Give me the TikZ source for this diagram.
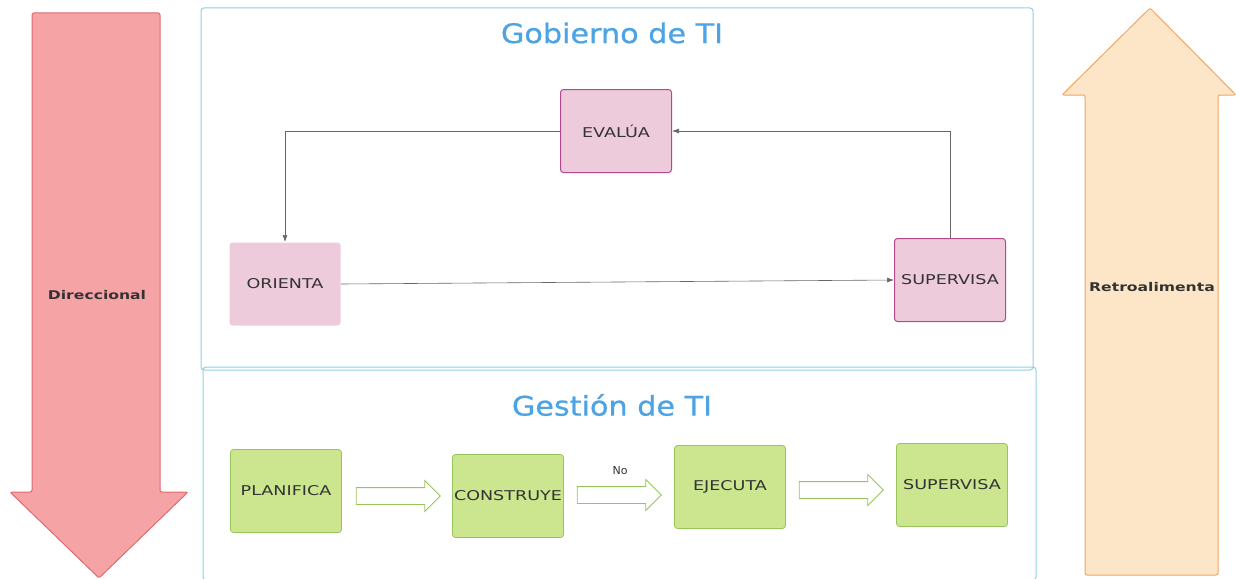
\documentclass[tikz,border=0pt]{standalone}
\usepackage{fontspec}
\setmainfont{DejaVu Sans}
\newfontfamily\widefont[FakeStretch=1.3]{DejaVu Sans}
\newfontfamily\titlefont[FakeStretch=1.12,FakeBold=0.8]{DejaVu Sans}
\usetikzlibrary{shapes.arrows,arrows.meta}
\definecolor{redfill}{HTML}{F5A3A5}
\definecolor{redline}{HTML}{E06A70}
\definecolor{orangefill}{HTML}{FDE6C8}
\definecolor{orangeline}{HTML}{F2A662}
\definecolor{frameblue}{HTML}{90CFE2}
\definecolor{titleblue}{HTML}{4DA3E3}
\definecolor{pinkfill}{HTML}{EECBDB}
\definecolor{pinkline}{HTML}{B4488E}
\definecolor{greenfill}{HTML}{CBE68E}
\definecolor{greenline}{HTML}{98C55A}
\definecolor{textgray}{HTML}{333333}
\tikzset{
  govbox/.style={draw=pinkline, fill=pinkfill, line width=1pt, rounded corners=3pt,
    minimum width=111pt, minimum height=83pt, inner sep=0pt,
    font=\widefont\fontsize{13.5}{15}\selectfont, text=textgray},
  mgmtbox/.style={draw=greenline, fill=greenfill, line width=0.8pt, rounded corners=3pt,
    minimum width=111pt, minimum height=83pt, inner sep=0pt,
    font=\widefont\fontsize{13.5}{15}\selectfont, text=textgray},
  title/.style={text=titleblue, font=\titlefont\fontsize{27}{30}\selectfont},
  sidelabel/.style={font=\widefont\bfseries\fontsize{12}{14}\selectfont, text=textgray},
  link/.style={draw=gray!80!black, line width=0.6pt, -{Latex[length=7pt,width=5pt]}},
  blockarrow/.style={single arrow, draw=greenline, fill=white, line width=0.8pt,
    minimum height=84pt, text height=0pt, text depth=0pt, inner xsep=0pt, inner ysep=8pt,
    single arrow head extend=7pt, single arrow head indent=0pt},
}
\begin{document}
\begin{tikzpicture}[x=1pt,y=-1pt]
  \useasboundingbox (0,0) rectangle (1236,578);
  % Side arrows
  \draw[fill=redfill, draw=redline, line width=1pt, rounded corners=2pt]
    (32,13) -- (160,13) -- (160,492) -- (188,492) -- (99,578) -- (10,492) -- (32,492) -- cycle;
  \draw[fill=orangefill, draw=orangeline, line width=1pt, rounded corners=2pt]
    (1085,575) -- (1085,95) -- (1062,95) -- (1150,8) -- (1236,95) -- (1218,95) -- (1218,575) -- cycle;
  \node[sidelabel] (dir) at (97,295) {Direccional};
  \node[sidelabel] (retro) at (1152,287) {Retroalimenta};
  % Frames
  \draw[frameblue, line width=1pt, rounded corners=3pt] (201,8) rectangle (1033,370);
  \draw[frameblue, line width=1pt, rounded corners=3pt] (203,367) rectangle (1036,580);
  % Titles
  \node[title] (gob) at (612,33) {Gobierno de TI};
  \node[title] (ges) at (612,405) {Gestión de TI};
  % Gobierno
  \node[govbox] (evalua) at (616,131) {EVALÚA};
  \node[govbox, draw=none] (orienta) at (285,284) {ORIENTA};
  \node[govbox] (supgob) at (950,280) {SUPERVISA};
  \draw[link] (evalua.west) -| (orienta.north);
  \draw[link] (supgob.north) |- (evalua.east);
  \draw[link] (orienta.east) -- (supgob.west);
  % Gestion
  \node[mgmtbox] (planifica) at (286,491) {PLANIFICA};
  \node[mgmtbox] (construye) at (508,496) {CONSTRUYE};
  \node[mgmtbox] (ejecuta) at (730,487) {EJECUTA};
  \node[mgmtbox] (supges) at (952,485) {SUPERVISA};
  \node[blockarrow] (a1) at (394,496) {};
  \node[blockarrow] (a2) at (615,495) {};
  \node[blockarrow] (a3) at (837,490) {};
  \node[font=\fontsize{11}{13}\selectfont, text=textgray] (no) at (620,471) {No};
\end{tikzpicture}
\end{document}
